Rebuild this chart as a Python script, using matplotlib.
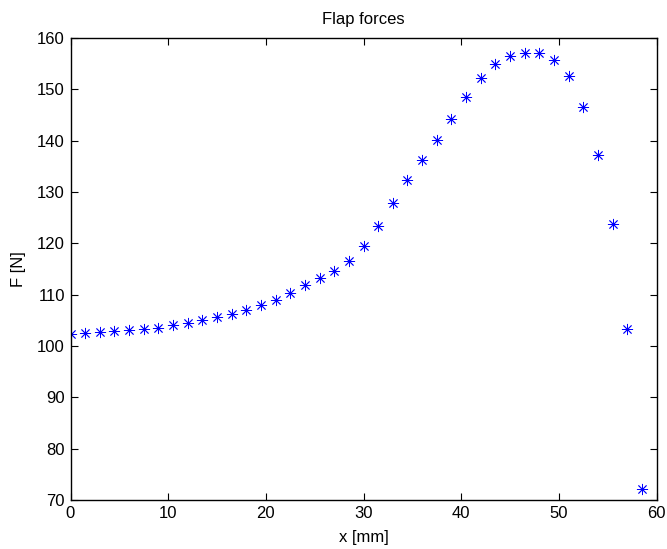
import numpy as np
from matplotlib import pyplot as plt

plt.rcParams['font.family'] = ['Liberation Sans', 'DejaVu Sans']
plt.rcParams['font.size'] = 12

# position along flap [mm] and force [N]
x_mm = np.arange(40) * 1.5
force = [102.3, 102.5, 102.7, 103.0, 103.2, 103.4, 103.6, 104.0, 104.5, 105.0,
         105.6, 106.3, 107.1, 108.0, 109.0, 110.3, 111.8, 113.2, 114.7, 116.6,
         119.4, 123.4, 127.9, 132.3, 136.2, 140.1, 144.3, 148.6, 152.3, 154.9,
         156.4, 157.0, 157.0, 155.8, 152.6, 146.6, 137.3, 123.7, 103.3, 72.2]

fig = plt.figure(figsize=(6.67, 5.49), dpi=100)
ax = fig.add_axes([70.5 / 667, 49 / 549, 586 / 667, 462 / 549])

ax.plot(x_mm, force, linestyle='none', marker=(8, 2, 0), markersize=8,
        markeredgewidth=0.6, color='#0000ff')

ax.set_xlim(0, 60)
ax.set_ylim(70, 160)
ax.set_xticks(np.arange(0, 61, 10))
ax.set_yticks(np.arange(70, 161, 10))
ax.tick_params(direction='in', top=True, right=True, length=5, width=0.8,
               labelsize=12, pad=4)
for s in ax.spines.values():
    s.set_linewidth(1.0)

ax.set_title('Flap forces', fontsize=12, pad=10)
ax.set_xlabel('x [mm]', fontsize=12, labelpad=7)
ax.set_ylabel('F [N]', fontsize=12, labelpad=8)

fig.savefig('out.png', dpi=100)
